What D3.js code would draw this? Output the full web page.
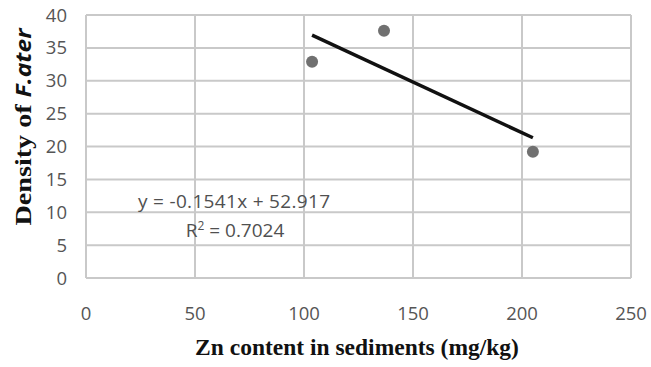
<!DOCTYPE html>
<html><head><meta charset="utf-8">
<script src="https://cdn.jsdelivr.net/npm/d3@7"></script>
<style>body{margin:0;background:#fff}svg{display:block}</style>
</head><body>
<svg id="c" width="651" height="367"></svg>
<script>
const zn = [103.7, 136.7, 205];
const density = [32.9, 37.6, 19.2];
const xTicks = [0, 50, 100, 150, 200, 250];
const yTicks = [0, 5, 10, 15, 20, 25, 30, 35, 40];
const slope = -0.1541, intercept = 52.917;
const eqText = "y = -0.1541x + 52.917";
const r2Value = "0.7024";

const svg = d3.select("#c");
const L = 86, R = 631, T = 15, B = 278;
const x = d3.scaleLinear().domain([0, 250]).range([L, R]);
const y = d3.scaleLinear().domain([0, 40]).range([B, T]);
const grid = "#c9c9c9";

svg.append("g").selectAll("line").data(xTicks).join("line")
  .attr("x1", d => x(d)).attr("x2", d => x(d)).attr("y1", T).attr("y2", B)
  .attr("stroke", grid).attr("stroke-width", 2);
svg.append("g").selectAll("line").data(yTicks).join("line")
  .attr("x1", L).attr("x2", R).attr("y1", d => y(d)).attr("y2", d => y(d))
  .attr("stroke", grid).attr("stroke-width", 2);

const tickFont = "'Open Sans', sans-serif";
svg.append("g").selectAll("text").data(yTicks).join("text")
  .attr("x", 67).attr("y", d => y(d) + 6.5).attr("text-anchor", "end")
  .attr("font-family", tickFont).attr("font-size", 18.5).attr("fill", "#555").text(d => d);
svg.append("g").selectAll("text").data(xTicks).join("text")
  .attr("x", d => x(d)).attr("y", 320).attr("text-anchor", "middle")
  .attr("font-family", tickFont).attr("font-size", 18.5).attr("fill", "#555").text(d => d);

// trendline
const x0 = d3.min(zn), x1 = d3.max(zn);
svg.append("line")
  .attr("x1", x(x0)).attr("y1", y(slope * x0 + intercept))
  .attr("x2", x(x1)).attr("y2", y(slope * x1 + intercept))
  .attr("stroke", "#111").attr("stroke-width", 3.5);

svg.append("g").selectAll("circle").data(zn.map((v, i) => [v, density[i]])).join("circle")
  .attr("cx", d => x(d[0])).attr("cy", d => y(d[1])).attr("r", 6)
  .attr("fill", "#707070");

// equation
svg.append("text").attr("x", 234).attr("y", 208).attr("text-anchor", "middle")
  .attr("font-family", tickFont).attr("font-size", 19).attr("fill", "#505050")
  .attr("textLength", 192).text(eqText);
const r2 = svg.append("text").attr("x", 235).attr("y", 237).attr("text-anchor", "middle")
  .attr("font-family", tickFont).attr("font-size", 19).attr("fill", "#505050");
r2.append("tspan").text("R");
r2.append("tspan").attr("dy", -7).attr("font-size", 12).text("2");
r2.append("tspan").attr("dy", 7).text(" = " + r2Value);

// axis titles
svg.append("text").attr("x", 357).attr("y", 355).attr("text-anchor", "middle")
  .attr("font-family", "'Liberation Serif', 'Times New Roman', serif").attr("font-weight", "bold")
  .attr("font-size", 23.5).attr("fill", "#111").text("Zn content in sediments (mg/kg)");
const yt = svg.append("text").attr("transform", "translate(31,127) rotate(-90)").attr("text-anchor", "middle")
  .attr("font-weight", "bold").attr("font-size", 24).attr("fill", "#111")
  .attr("textLength", 197).attr("lengthAdjust", "spacingAndGlyphs");
yt.append("tspan").attr("font-family", "'Liberation Serif', 'Times New Roman', serif").text("Density of  ");
yt.append("tspan").attr("font-family", "'Open Sans', sans-serif").attr("font-style", "italic").attr("font-size", 21).text("F.ater");
</script>
</body></html>
